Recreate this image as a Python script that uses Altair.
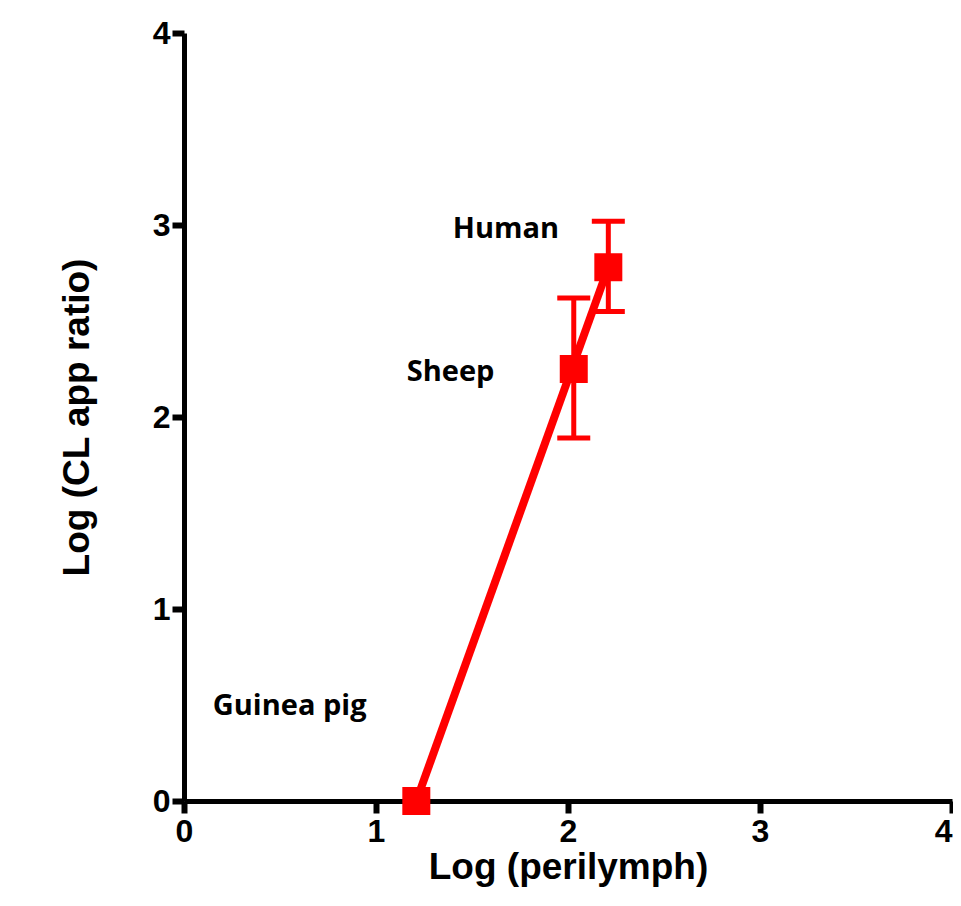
import altair as alt
import pandas as pd

# Data
species = ["Guinea pig", "Sheep", "Human"]
log_perilymph = [1.21, 2.03, 2.21]
log_cl_ratio = [0.0, 2.25, 2.78]

err_species = ["Sheep", "Human"]
err_x = [2.03, 2.21]
err_low = [1.89, 2.55]
err_high = [2.62, 3.02]

fit_x = [1.21, 2.21]
fit_y = [0.0, 2.78]

label_text = ["Guinea pig", "Sheep", "Human"]
label_x = [0.15, 1.16, 1.40]
label_y = [0.45, 2.19, 2.93]

x_ticks = [0, 1, 2, 3, 4]
y_ticks = [0, 1, 2, 3, 4]

pts = pd.DataFrame({"species": species, "x": log_perilymph, "y": log_cl_ratio})
errs = pd.DataFrame({"species": err_species, "x": err_x, "lo": err_low, "hi": err_high})
fit = pd.DataFrame({"x": fit_x, "y": fit_y})
labels = pd.DataFrame({"text": label_text, "x": label_x, "y": label_y})

RED = "#ff0000"
xs = alt.Scale(domain=[0, 4], nice=False, zero=False)
ys = alt.Scale(domain=[0, 4], nice=False, zero=False)

LBL = dict(labelFont="Liberation Sans", labelFontSize=32, labelFontWeight="bold", labelColor="black")

x_axis = alt.Axis(values=x_ticks, title="Log (perilymph)", format="d",
                  labelPadding=3, titlePadding=2,
                  labelAlign=alt.condition("datum.value >= 4", alt.value("right"), alt.value("center")),
                  **LBL)
y_axis = alt.Axis(values=y_ticks, title="Log (CL app ratio)", format="d",
                  labelPadding=2, titlePadding=56, **LBL)

line = alt.Chart(fit).mark_line(color=RED, strokeWidth=8, opacity=1).encode(
    x=alt.X("x:Q", scale=xs, axis=x_axis),
    y=alt.Y("y:Q", scale=ys, axis=y_axis),
)

rules = alt.Chart(errs).mark_rule(color=RED, strokeWidth=5, opacity=1).encode(
    x=alt.X("x:Q", scale=xs), y=alt.Y("lo:Q", scale=ys), y2="hi:Q"
)
cap_lo = alt.Chart(errs).mark_tick(color=RED, thickness=5, size=33, orient="horizontal", opacity=1).encode(
    x=alt.X("x:Q", scale=xs), y=alt.Y("lo:Q", scale=ys)
)
cap_hi = alt.Chart(errs).mark_tick(color=RED, thickness=5, size=33, orient="horizontal", opacity=1).encode(
    x=alt.X("x:Q", scale=xs), y=alt.Y("hi:Q", scale=ys)
)

squares = alt.Chart(pts).mark_square(color=RED, size=784, opacity=1).encode(
    x=alt.X("x:Q", scale=xs), y=alt.Y("y:Q", scale=ys)
)

texts = alt.Chart(labels).mark_text(
    font="Open Sans", fontSize=29, fontWeight="bold", align="left",
    baseline="alphabetic", color="black"
).encode(
    x=alt.X("x:Q", scale=xs), y=alt.Y("y:Q", scale=ys), text="text:N"
)

chart = alt.layer(line, rules, cap_lo, cap_hi, squares, texts).properties(
    width=768, height=768,
    autosize=alt.AutoSizeParams(type="none"),
    padding={"left": 176, "top": 25, "right": 1, "bottom": 88},
).configure_view(stroke=None).configure_axis(
    grid=False,
    domainColor="black", domainWidth=5,
    tickColor="black", tickWidth=6, tickSize=12,
    titleFont="Liberation Sans", titleFontSize=37, titleFontWeight="bold", titleColor="black",
    labelFlush=False, labelOverlap=False,
)

chart.save("out.html", embed_options={"renderer": "svg", "actions": False})
